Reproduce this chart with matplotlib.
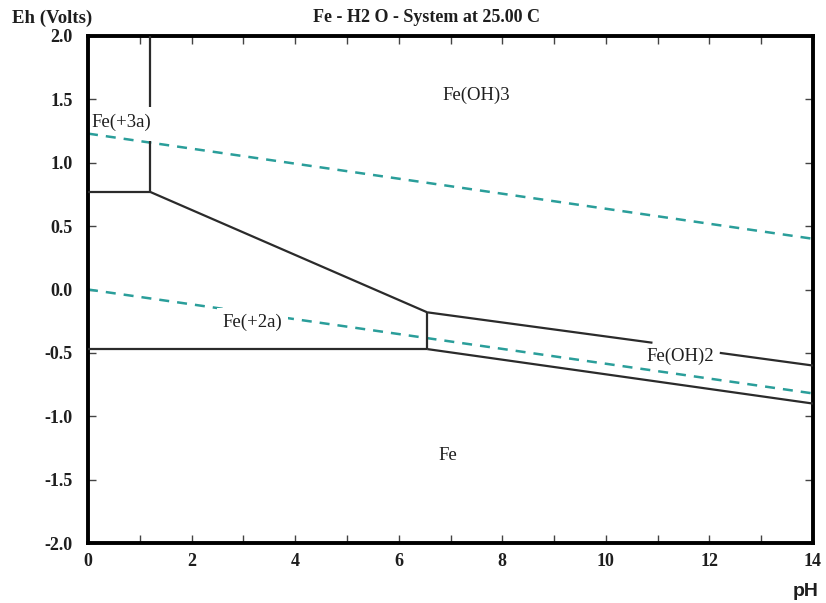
import matplotlib
matplotlib.use("Agg")
import matplotlib.pyplot as plt
import numpy as np

# ---- data ----
# solid phase boundaries, each a separate polyline (pH, Eh)
bound_ph = [
    [1.2, 1.2],            # Fe+3a / Fe(OH)3 vertical, upper part
    [1.2, 1.2],            # lower part below label
    [0.0, 1.2],            # Fe+3a / Fe+2a
    [1.2, 6.55],           # Fe(OH)3 / Fe+2a
    [6.55, 10.9],          # Fe(OH)3 / Fe(OH)2 (left of label)
    [12.2, 14.0],          # Fe(OH)3 / Fe(OH)2 (right of label)
    [6.55, 6.55],          # Fe+2a / Fe(OH)2
    [0.0, 6.55],           # Fe+2a / Fe
    [6.55, 14.0],          # Fe(OH)2 / Fe
]
bound_eh = [
    [2.0, 1.44],
    [1.17, 0.77],
    [0.77, 0.77],
    [0.77, -0.18],
    [-0.18, -0.42],
    [-0.50, -0.60],
    [-0.18, -0.47],
    [-0.47, -0.47],
    [-0.47, -0.90],
]
# water stability lines (dashed)
water_ph = [[0.0, 14.0], [0.0, 14.0]]
water_eh = [[1.23, 0.40], [0.0, -0.82]]

# region labels
lab_text = ["Fe(OH)3", "Fe(+3a)", "Fe(+2a)", "Fe(OH)2", "Fe"]
lab_ph = [7.5, 0.64, 3.17, 11.43, 6.95]
lab_eh = [1.53, 1.32, -0.26, -0.53, -1.31]

x_ticks = list(range(0, 15, 2))
x_minor = list(range(0, 15, 1))
y_ticks = [-2.0, -1.5, -1.0, -0.5, 0.0, 0.5, 1.0, 1.5, 2.0]

# ---- figure ----
fig = plt.figure(figsize=(8.26, 6.03), dpi=100)
ax = fig.add_axes([88 / 826, 1 - 543 / 603, (813 - 88) / 826, (543 - 36) / 603])

serif = ["Liberation Serif", "DejaVu Serif"]
line_col = "#2b2b2b"
water_col = "#2a9e9a"
txt_col = "#1e1e1e"

for xs, ys in zip(water_ph, water_eh):
    ax.plot(xs, ys, color=water_col, lw=1.8, linestyle=(0, (4, 3.2)), zorder=2)

for xs, ys in zip(bound_ph, bound_eh):
    ax.plot(xs, ys, color=line_col, lw=1.6, solid_capstyle="butt", zorder=3)

for t, x, y in zip(lab_text, lab_ph, lab_eh):
    kw = {}
    if t == "Fe(+2a)":
        kw["bbox"] = dict(facecolor="white", edgecolor="none", pad=4)
    ax.text(x, y, t, ha="center", va="center", fontsize=13.5, family=serif,
            color=txt_col, zorder=4, **kw)

ax.set_xlim(0, 14)
ax.set_ylim(-2, 2)
ax.set_xticks(x_ticks)
ax.set_xticks(x_minor, minor=True)
ax.set_yticks(y_ticks)
ax.set_xticklabels([str(v) for v in x_ticks])
ax.set_yticklabels([f"{v:.1f}" for v in y_ticks])

for lab in ax.get_xticklabels() + ax.get_yticklabels():
    lab.set_fontfamily(serif)
    lab.set_fontweight("bold")
    lab.set_fontsize(13)
    lab.set_color(txt_col)

ax.tick_params(which="both", direction="in", length=6, width=1, color="#444444",
               top=True, right=True, pad=7)
ax.tick_params(axis="y", which="both", pad=11)
ax.xaxis.set_tick_params(which="minor", labelbottom=False)

for s in ax.spines.values():
    s.set_linewidth(2.8)
    s.set_color("black")

fig.text(12 / 826, 1 - 18 / 603, "Eh (Volts)", ha="left", va="center",
         fontsize=13.5, fontweight="bold", family=serif, color=txt_col)
fig.text(427 / 826, 1 - 18 / 603, "Fe - H2 O - System at 25.00 C", ha="center",
         va="center", fontsize=13, fontweight="bold", family=serif, color=txt_col)
fig.text(806 / 826, 1 - 592 / 603, "pH", ha="center", va="center", fontsize=14,
         fontweight="bold", family=["Liberation Sans", "DejaVu Sans"], color=txt_col)

fig.savefig("out.png", dpi=100)
